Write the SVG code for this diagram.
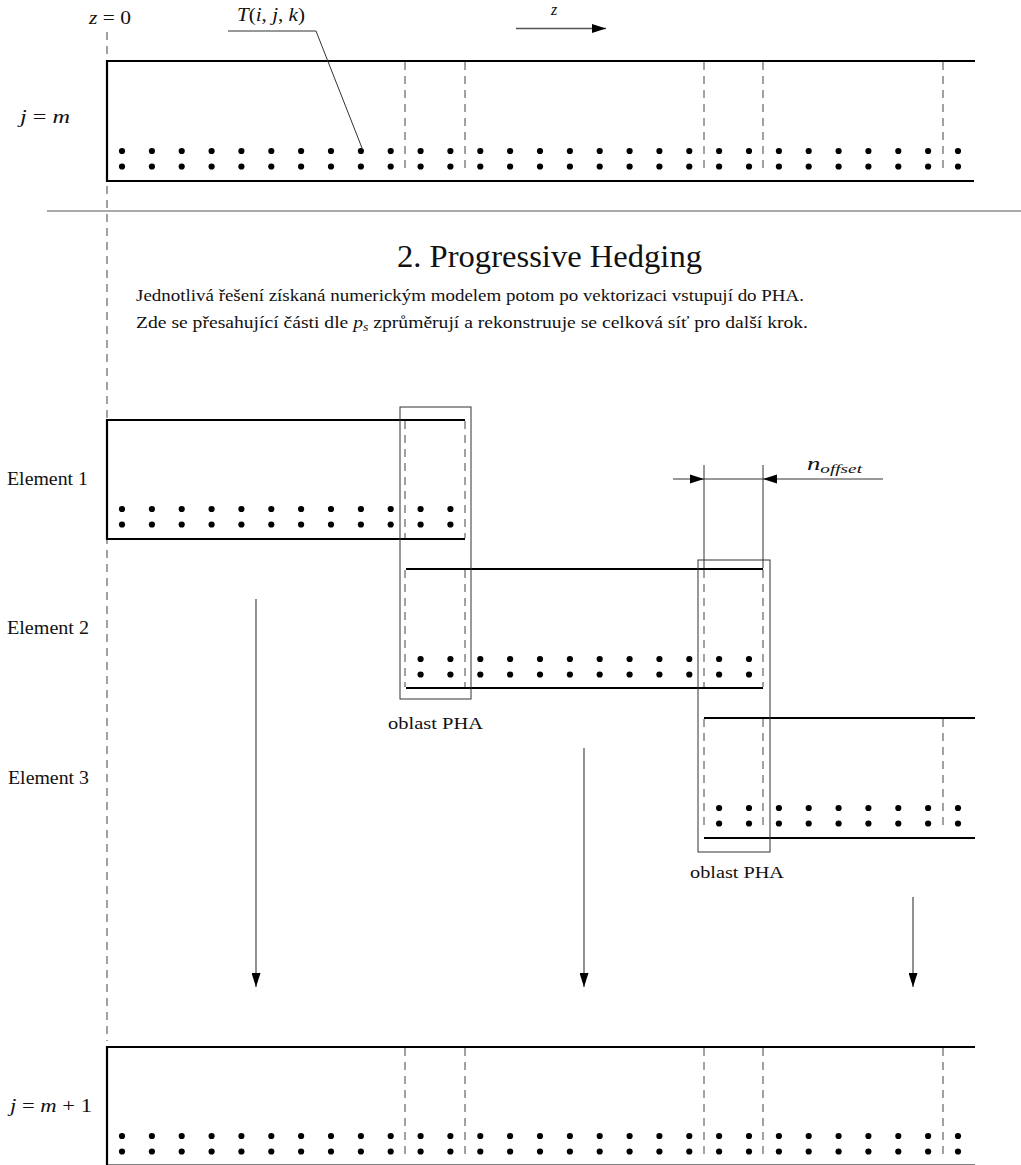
<svg xmlns="http://www.w3.org/2000/svg" xmlns:xlink="http://www.w3.org/1999/xlink" width="1021" height="1165" viewBox="0 0 1021 1165">
<style>
  .txt { font-family: "Liberation Serif", "DejaVu Serif", serif; fill: #111; }
  .it { font-style: italic; }
  .thick { stroke: #000; stroke-width: 2.2; fill: none; stroke-linecap: butt; }
  .dash { stroke: #444; stroke-width: 1; stroke-dasharray: 8 6; fill: none; }
  .zdash { stroke: #444; stroke-width: 1; stroke-dasharray: 8 6; fill: none; }
  .thin { stroke: #333; stroke-width: 1; fill: none; }
  .arrow { stroke: #555; stroke-width: 1.3; fill: none; }
  .head { fill: #000; stroke: none; }
  .dot { fill: #000; }
</style>
<defs>
  <marker id="ah" markerUnits="userSpaceOnUse" markerWidth="14" markerHeight="9" refX="14" refY="4.5" orient="auto">
    <path d="M0,0 L14,4.5 L0,9 z" fill="#000"/>
  </marker>
  <g id="p"><circle class="dot" cx="0" cy="0" r="3.1"/><circle class="dot" cx="0" cy="15.5" r="3.1"/></g>
  <g id="row29">
    <use xlink:href="#p" x="122.0"/><use xlink:href="#p" x="151.9"/><use xlink:href="#p" x="181.7"/><use xlink:href="#p" x="211.6"/>
    <use xlink:href="#p" x="241.4"/><use xlink:href="#p" x="271.3"/><use xlink:href="#p" x="301.1"/><use xlink:href="#p" x="331.0"/>
    <use xlink:href="#p" x="360.9"/><use xlink:href="#p" x="390.7"/><use xlink:href="#p" x="420.6"/><use xlink:href="#p" x="450.4"/>
    <use xlink:href="#p" x="480.3"/><use xlink:href="#p" x="510.1"/><use xlink:href="#p" x="540.0"/><use xlink:href="#p" x="569.9"/>
    <use xlink:href="#p" x="599.7"/><use xlink:href="#p" x="629.6"/><use xlink:href="#p" x="659.4"/><use xlink:href="#p" x="689.3"/>
    <use xlink:href="#p" x="719.1"/><use xlink:href="#p" x="749.0"/><use xlink:href="#p" x="778.9"/><use xlink:href="#p" x="808.7"/>
    <use xlink:href="#p" x="838.6"/><use xlink:href="#p" x="868.4"/><use xlink:href="#p" x="898.3"/><use xlink:href="#p" x="928.1"/>
    <use xlink:href="#p" x="958.0"/>
  </g>
</defs>
<rect x="0" y="0" width="1021" height="1165" fill="#fff"/>

<!-- z = 0 axis -->
<g id="axis-z0">
  <line class="zdash" x1="107" y1="32" x2="107" y2="1041"/>
  <text class="txt" font-family="Liberation Serif, serif" x="89" y="24" font-size="19" textLength="42" lengthAdjust="spacingAndGlyphs"><tspan class="it">z</tspan> = 0</text>
</g>

<!-- separator -->
<g id="separator">
  <line x1="47" y1="211" x2="1021" y2="211" stroke="#555" stroke-width="1"/>
</g>

<!-- top grid j = m -->
<g id="grid-jm">
  <path class="thick" d="M975,61 H107 V181 H974"/>
  <line class="dash" x1="405" y1="62" x2="405" y2="174"/>
  <line class="dash" x1="465" y1="62" x2="465" y2="174"/>
  <line class="dash" x1="704" y1="62" x2="704" y2="174"/>
  <line class="dash" x1="763" y1="62" x2="763" y2="174"/>
  <line class="dash" x1="943" y1="62" x2="943" y2="174"/>
  <use xlink:href="#row29" y="151"/>
  <text class="txt" x="20" y="123" font-size="19" textLength="50" lengthAdjust="spacingAndGlyphs"><tspan class="it">j</tspan> = <tspan class="it">m</tspan></text>
</g>

<g id="label-T">
  <text class="txt" x="237" y="21" font-size="19" textLength="68" lengthAdjust="spacingAndGlyphs"><tspan class="it">T</tspan>(<tspan class="it">i</tspan>, <tspan class="it">j</tspan>, <tspan class="it">k</tspan>)</text>
</g>

<g id="label-z">
  <text class="txt it" x="551" y="15" font-size="16">z</text>
</g>

<!-- heading -->
<g id="heading">
  <text class="txt" font-family="Liberation Serif, serif" x="397" y="267" font-size="31" textLength="305" lengthAdjust="spacingAndGlyphs">2. Progressive Hedging</text>
  <text class="txt" font-family="Liberation Serif, serif" x="136" y="301" font-size="17" textLength="668" lengthAdjust="spacingAndGlyphs">Jednotlivá řešení získaná numerickým modelem potom po vektorizaci vstupují do PHA.</text>
  <text class="txt" font-family="Liberation Serif, serif" x="136" y="328" font-size="17" textLength="672" lengthAdjust="spacingAndGlyphs">Zde se přesahující části dle <tspan class="it">p</tspan><tspan class="it" font-size="12" dy="3">s</tspan><tspan dy="-3"> zprůměrují a rekonstruuje se celková síť pro další krok.</tspan></text>
</g>

<!-- Element 1 -->
<g id="element1">
  <path class="thick" d="M465,420 H107 V539 H465"/>
  <line class="dash" x1="405" y1="421" x2="405" y2="538"/>
  <line class="dash" x1="465" y1="421" x2="465" y2="538"/>
  <use xlink:href="#p" x="122.0" y="509"/><use xlink:href="#p" x="151.9" y="509"/><use xlink:href="#p" x="181.7" y="509"/><use xlink:href="#p" x="211.6" y="509"/>
  <use xlink:href="#p" x="241.4" y="509"/><use xlink:href="#p" x="271.3" y="509"/><use xlink:href="#p" x="301.1" y="509"/><use xlink:href="#p" x="331.0" y="509"/>
  <use xlink:href="#p" x="360.9" y="509"/><use xlink:href="#p" x="390.7" y="509"/><use xlink:href="#p" x="420.6" y="509"/><use xlink:href="#p" x="450.4" y="509"/>
  <text class="txt" x="7" y="485" font-size="18" textLength="81" lengthAdjust="spacingAndGlyphs">Element 1</text>
</g>

<!-- Element 2 -->
<g id="element2">
  <line class="thick" x1="406" y1="569" x2="763" y2="569"/>
  <line class="thick" x1="406" y1="688" x2="763" y2="688"/>
  <line class="dash" x1="405" y1="570" x2="405" y2="687"/>
  <line class="dash" x1="465" y1="570" x2="465" y2="687"/>
  <line class="dash" x1="704" y1="570" x2="704" y2="687"/>
  <line class="dash" x1="763" y1="570" x2="763" y2="687"/>
  <use xlink:href="#p" x="420.6" y="659"/><use xlink:href="#p" x="450.4" y="659"/><use xlink:href="#p" x="480.3" y="659"/><use xlink:href="#p" x="510.1" y="659"/>
  <use xlink:href="#p" x="540.0" y="659"/><use xlink:href="#p" x="569.9" y="659"/><use xlink:href="#p" x="599.7" y="659"/><use xlink:href="#p" x="629.6" y="659"/>
  <use xlink:href="#p" x="659.4" y="659"/><use xlink:href="#p" x="689.3" y="659"/><use xlink:href="#p" x="719.1" y="659"/><use xlink:href="#p" x="749.0" y="659"/>
  <text class="txt" x="7" y="634" font-size="18" textLength="82" lengthAdjust="spacingAndGlyphs">Element 2</text>
</g>

<!-- Element 3 -->
<g id="element3">
  <line class="thick" x1="704" y1="718" x2="975" y2="718"/>
  <line class="thick" x1="704" y1="838" x2="975" y2="838"/>
  <line class="dash" x1="704" y1="719" x2="704" y2="830"/>
  <line class="dash" x1="763" y1="719" x2="763" y2="830"/>
  <line class="dash" x1="943" y1="719" x2="943" y2="830"/>
  <use xlink:href="#p" x="719.1" y="808"/><use xlink:href="#p" x="749.0" y="808"/><use xlink:href="#p" x="778.9" y="808"/><use xlink:href="#p" x="808.7" y="808"/>
  <use xlink:href="#p" x="838.6" y="808"/><use xlink:href="#p" x="868.4" y="808"/><use xlink:href="#p" x="898.3" y="808"/><use xlink:href="#p" x="928.1" y="808"/>
  <use xlink:href="#p" x="958.0" y="808"/>
  <text class="txt" x="8" y="784" font-size="18" textLength="81" lengthAdjust="spacingAndGlyphs">Element 3</text>
</g>

<!-- PHA regions -->
<g id="pha1">
  <rect class="thin" x="400" y="407" width="71" height="292"/>
  <text class="txt" x="388" y="729" font-size="17" textLength="95" lengthAdjust="spacingAndGlyphs">oblast PHA</text>
</g>
<g id="pha2">
  <rect class="thin" x="698" y="560" width="72" height="292"/>
  <text class="txt" x="690" y="878" font-size="17" textLength="94" lengthAdjust="spacingAndGlyphs">oblast PHA</text>
</g>

<!-- bottom grid j = m + 1 -->
<g id="grid-jm1">
  <path class="thick" d="M975,1047 H107 V1166"/>
  <line x1="107" y1="1165.5" x2="975" y2="1165.5" stroke="#000" stroke-width="2.2"/>
  <line class="dash" x1="405" y1="1048" x2="405" y2="1158"/>
  <line class="dash" x1="465" y1="1048" x2="465" y2="1158"/>
  <line class="dash" x1="704" y1="1048" x2="704" y2="1158"/>
  <line class="dash" x1="763" y1="1048" x2="763" y2="1158"/>
  <line class="dash" x1="943" y1="1048" x2="943" y2="1158"/>
  <use xlink:href="#row29" y="1136"/>
  <text class="txt" x="10" y="1112" font-size="19" textLength="82" lengthAdjust="spacingAndGlyphs"><tspan class="it">j</tspan> = <tspan class="it">m</tspan> + 1</text>
</g>

<!-- n_offset label -->
<g id="label-noffset">
  <text class="txt it" x="807" y="470" font-size="18" textLength="55" lengthAdjust="spacingAndGlyphs">n<tspan font-size="13" dy="3">offset</tspan></text>
</g>

<!-- connectors -->
<g id="connectors">
  <polyline class="thin" points="228,31 316,31 362,148"/>
  <line class="arrow" x1="516" y1="28.5" x2="606" y2="28.5" marker-end="url(#ah)"/>
  <line class="arrow" x1="256" y1="599" x2="256" y2="987" marker-end="url(#ah)"/>
  <line class="arrow" x1="584" y1="748" x2="584" y2="987" marker-end="url(#ah)"/>
  <line class="arrow" x1="913" y1="897" x2="913" y2="987" marker-end="url(#ah)"/>
  <line class="thin" x1="704" y1="465" x2="704" y2="568"/>
  <line class="thin" x1="763" y1="465" x2="763" y2="568"/>
  <line class="thin" x1="673" y1="479" x2="883" y2="479"/>
  <polygon class="head" points="690,474.5 704,479 690,483.5"/>
  <polygon class="head" points="777,474.5 763,479 777,483.5"/>
</g>
</svg>
